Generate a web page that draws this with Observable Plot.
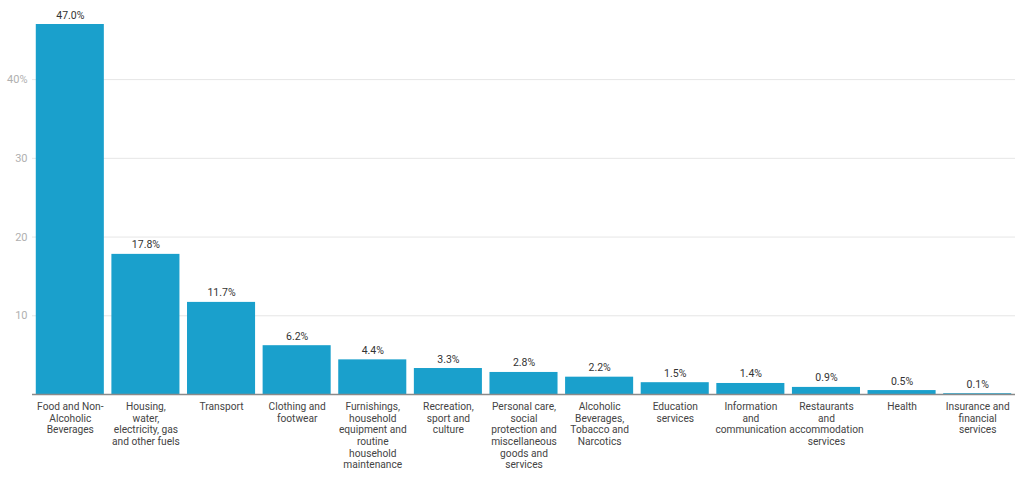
<!DOCTYPE html>
<html>
<head>
<meta charset="utf-8">
<script src="https://cdn.jsdelivr.net/npm/d3@7"></script>
<script src="https://cdn.jsdelivr.net/npm/@observablehq/plot@0.6"></script>
<style>
  html, body { margin: 0; padding: 0; background: #fff; }
  #chart { width: 1024px; height: 478px; }
</style>
</head>
<body>
<div id="chart"></div>
<script>
const categories = [
  "Food and Non-Alcoholic Beverages",
  "Housing, water, electricity, gas and other fuels",
  "Transport",
  "Clothing and footwear",
  "Furnishings, household equipment and routine household maintenance",
  "Recreation, sport and culture",
  "Personal care, social protection and miscellaneous goods and services",
  "Alcoholic Beverages, Tobacco and Narcotics",
  "Education services",
  "Information and communication",
  "Restaurants and accommodation services",
  "Health",
  "Insurance and financial services"
];
const shares = [47.0, 17.8, 11.7, 6.2, 4.4, 3.3, 2.8, 2.2, 1.5, 1.4, 0.9, 0.5, 0.1];
const tickLabels = [
  "Food and Non-\nAlcoholic\nBeverages",
  "Housing,\nwater,\nelectricity, gas\nand other fuels",
  "Transport",
  "Clothing and\nfootwear",
  "Furnishings,\nhousehold\nequipment and\nroutine\nhousehold\nmaintenance",
  "Recreation,\nsport and\nculture",
  "Personal care,\nsocial\nprotection and\nmiscellaneous\ngoods and\nservices",
  "Alcoholic\nBeverages,\nTobacco and\nNarcotics",
  "Education\nservices",
  "Information\nand\ncommunication",
  "Restaurants\nand\naccommodation\nservices",
  "Health",
  "Insurance and\nfinancial\nservices"
];
const yTicks = [10, 20, 30, 40];

const data = categories.map((c, i) => ({category: c, value: shares[i], label: tickLabels[i]}));
const labelOf = new Map(data.map(d => [d.category, d.label]));

const chart = Plot.plot({
  width: 1024,
  height: 478,
  marginTop: 24,
  marginBottom: 84,
  marginLeft: 32,
  marginRight: 9,
  style: {fontFamily: "Roboto, sans-serif", fontSize: "10.5px", background: "#fff"},
  x: {domain: categories, paddingInner: 0.1, paddingOuter: 0.05, round: false, label: null},
  y: {domain: [0, 47], label: null},
  marks: [
    Plot.gridY(yTicks, {stroke: "#e6e6e6", strokeOpacity: 1}),
    Plot.barY(data, {x: "category", y: "value", fill: "#1aa0cc"}),
    Plot.ruleY([0], {stroke: "#8a8a8a", strokeWidth: 1.5}),
    Plot.text(data, {x: "category", y: "value", text: d => d.value.toFixed(1) + "%", lineAnchor: "bottom", dy: -6, fill: "#333", fontSize: 10.5}),
    Plot.axisY(yTicks, {tickSize: 0, tickPadding: 5, tickFormat: d => d === 40 ? "40%" : String(d), fill: "#b0b0b0", fontSize: 11}),
    Plot.axisX({tickSize: 0, tickPadding: 7, tickFormat: d => labelOf.get(d), fill: "#444", fontSize: 10.2, lineHeight: 1.15})
  ]
});
document.getElementById("chart").appendChild(chart);
</script>
</body>
</html>
